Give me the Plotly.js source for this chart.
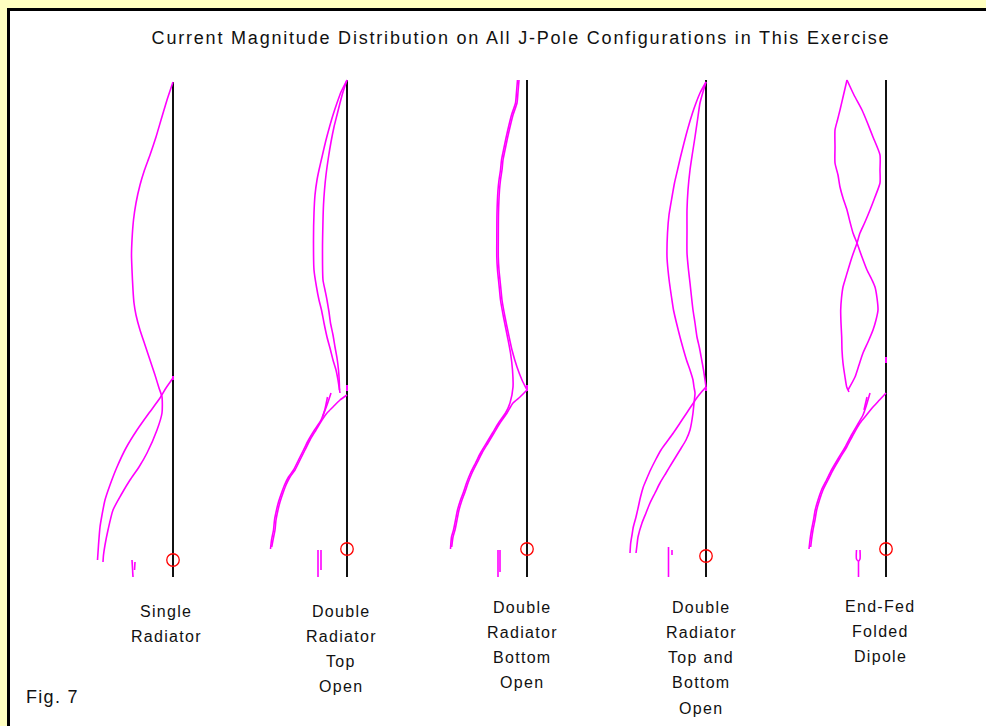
<!DOCTYPE html>
<html>
<head>
<meta charset="utf-8">
<script src="https://cdn.plot.ly/plotly-3.0.1.min.js"></script>
<style>
  html, body { margin: 0; padding: 0; background: #FFFFC0; }
  #chart { width: 986px; height: 726px; }
  text.gtitle { letter-spacing: 1.8px; }
  text.annotation-text { letter-spacing: 1.3px; }
</style>
</head>
<body>
<div id="chart"></div>
<script>
// ---------------- DATA ----------------
// Heights are measured along each element above its bottom end; current magnitudes
// are plotted as offsets to the left of the wire (same drawing units).
const titleText = "Current Magnitude Distribution on All J-Pole Configurations in This Exercise";
const configLabels = [
  ["Single", "Radiator"],
  ["Double", "Radiator", "Top", "Open"],
  ["Double", "Radiator", "Bottom", "Open"],
  ["Double", "Radiator", "Top and", "Bottom", "Open"],
  ["End-Fed", "Folded", "Dipole"]
];
const figLabel = "Fig. 7";

// element (wire) heights: top of each vertical element
const elementTop = [495, 497, 497, 497, 497];
// feed-point (source) heights
const sourceHeight = [17, 28, 28, 21, 28];

// Config 1 - Single Radiator
const c1UpperH = [495,477,457,440,422,407,392,374,357,337,322,307,287,274,262,247,232,217,202,189,180,164,147,124,110,97,82,67,47,32,22,15];
const c1UpperI = [0,6,12,17,23,28.5,33,37,39.5,41,41.5,41,40,39,37,33,28,23,18,14,11,11,16,26,34,43,52,60,65,68,69.5,70];
const c1LowerH = [199,189,179,164,147,129,110,92,77,62,50,32,17];
const c1LowerI = [0,7,13,24,36,47,56,63,68,71,73,74.5,75.5];
const c1StubH = [17,0];
const c1StubI = [41,40];
const c1StubBH = [15,7];
const c1StubBI = [38,38.5];

// Config 2 - Double Radiator, Top Open
const c2OuterH = [497,485,474,462,450,435,420,407,397,382,364,337,307,290,277,267,254,240,227,217,207,197,184];
const c2OuterI = [0,6,10,14,17.5,21.5,25,28,30,32,33,33.5,33,30.5,28,25.5,23,20,16.5,14,11,9,7];
const c2InnerH = [497,485,474,462,450,435,420,402,387,372,357,327,297,287,277,265,254,242,230,219,207,197,187];
const c2InnerI = [0,4,7,10,13,16,18.5,21,22.5,23.5,24,24.5,24,22,20,18,16.5,14,12,10,8.5,7.8,7.5];
const c2LowerH = [182,177,170,164,157,147,137,127,117,107,100,92,84,75,67,57,47,37,30];
const c2LowerI = [0,7,14,20,25,31,37,42,47,52,57,61,64,67,69,71,72,74,75.3];
const c2BranchH = [184,172,157,147,137,127,117,107,100,92,84,75,67,57,47,37,28];
const c2BranchI = [16,20,26,32.5,38.5,43.5,48.5,53.5,58.5,62.5,65.5,68.5,70.5,72.5,73.5,75.5,76.5];
const c2Branch2H = [180,168,160];
const c2Branch2I = [19.5,22,24.5];
const c2StubH = [27,0];
const c2StubI = [29,29];
const c2StubBH = [27,7];
const c2StubBI = [26,26];

// Config 3 - Double Radiator, Bottom Open
const c3UpperAH = [497,485,474,462,450,439,427,417,407,397,387,364,337,320,307,297,287,277,260,244,227,210,197,187];
const c3UpperAI = [8,9,10,14,17,19.5,22,24,25,26.5,27.5,28.5,28.7,28.7,28,27,26,25,22,18.7,15,10,5,0];
const c3UpperBH = [497,485,474,462,450,439,427,417,407,397,387,364,337,320,307,297,287,277,260,240,224,207,190,174,164,154,144,134,124,114,104,94,85,77,67,57,47,40,28];
const c3UpperBI = [9.5,10.5,11.5,15.5,18.5,21,23.5,25.5,26.5,28,29,30,30.2,30.2,29.5,28.5,27.5,26.5,23.5,19.5,16.5,14.5,14,17,21.5,28.5,34.5,40.5,46.5,51.5,56.5,60.5,63.5,66.5,69.5,71.5,73.5,75.5,76.5];
const c3LowerH = [187,180,174,164,154,144,134,124,114,104,94,85,77,67,57,47,40,30];
const c3LowerI = [0,7,14,20,27,33,39,45,50,55,59,62,65,68,70,72,74,75.3];
const c3StubH = [27,0];
const c3StubI = [29,29];
const c3StubBH = [27,5];
const c3StubBI = [27,27];

// Config 4 - Double Radiator, Top and Bottom Open
const c4OuterH = [495,484,474,464,449,434,420,407,394,380,362,344,320,307,294,280,267,254,240,229,217,207,197,190,184,174,164,147,137,127,114,104,94,84,74,64,54,40,32,24];
const c4OuterI = [0,6,10,13.5,18,22,25.5,28.5,31.5,34,37,38.5,39,38,36.5,34.5,32.5,29.5,26,23,19.5,16,13,12,11,12,13,16,20,26,34,40,46,51,56,60,64,68,69,70];
const c4InnerH = [495,485,474,457,440,424,407,387,367,347,324,307,294,280,267,254,240,229,217,207,197,190];
const c4InnerI = [0,3,6,8.5,11,13.5,16,18,19,19,19,17.5,16,14.5,13,11,9,6.5,4.3,2.5,1,0];
const c4LowerH = [190,185,179,172,164,154,144,134,127,117,107,99,90,80,70,60,50,42,34,24];
const c4LowerI = [0,4.5,9.3,14,19.3,26,32.7,40,45,50.5,55.5,59,62.7,65.5,67.7,70,72.7,74,75.3,76];
const c4StubH = [30,0];
const c4StubI = [37.5,37.5];
const c4StubBH = [27,22];
const c4StubBI = [34,34];

// Config 5 - End-Fed Folded Dipole
const c5Wire1H = [497,482,467,457,447,430,414,402,390,379,367,355,344,334,320,307,297,290,279,267,257,247,235,224,212,200,187];
const c5Wire1I = [39,42.5,46,48.5,51,51,51,48,46,43,39,36,33,29,24,19,14,11,9,8,10,13,18,23,27,31,38];
const c5Wire2H = [497,482,467,454,440,422,407,394,380,367,355,344,334,320,307,297,290,279,267,254,240,227,214,200,190,185];
const c5Wire2I = [39,32,24,18.5,13,6,6,6,11,16,21,26,29,34,38,41,43,44.5,45.3,45,44.3,44,43,41,39.3,37];
const c5LowerH = [184,177,170,162,154,142,130,119,107,97,87,77,67,57,47,37,30];
const c5LowerI = [0,6.5,13,19.5,26,33,39.3,46,53,58,63,66.5,69.3,71,73,74.5,75.3];
const c5BranchH = [184,172,162,154,142,130,119,107,97,87,77,67,57,47,37,28];
const c5BranchI = [16,19.5,23,27.5,34.5,40.8,47.5,54.5,59.5,64.5,68,70.8,72.5,74.5,76,77];
const c5Branch2H = [180,167];
const c5Branch2I = [19,22];
const c5StubH = [27,18,16,18,27];
const c5StubI = [29.5,29.5,27.5,26,26];
const c5StubBH = [16,0];
const c5StubBI = [27.5,27.5];

// current on the wire itself near junctions (height ranges)
const wireMarkH = [[197,201],[186,192],[186,192],[186,190],[214,220]];

// ---------------- LAYOUT CONSTANTS ----------------
const W = 986, H = 726;
const BASE_PX = 577;                       // pixel row of element bottoms
const elementX = [173, 347, 527, 706, 886];
const toH = px => BASE_PX - px;             // pixel row -> drawing height
const MAG = '#FF00FF';
const labelX = [166, 341, 522, 701, 880];
const labelY0 = [611, 611, 607, 607, 606];
const LINE_STEP = 25.3;

const curves = [
  [[c1UpperH, c1UpperI], [c1LowerH, c1LowerI], [c1StubH, c1StubI], [c1StubBH, c1StubBI]],
  [[c2OuterH, c2OuterI], [c2InnerH, c2InnerI], [c2LowerH, c2LowerI], [c2BranchH, c2BranchI], [c2Branch2H, c2Branch2I], [c2StubH, c2StubI], [c2StubBH, c2StubBI]],
  [[c3UpperAH, c3UpperAI], [c3UpperBH, c3UpperBI], [c3LowerH, c3LowerI], [c3StubH, c3StubI], [c3StubBH, c3StubBI]],
  [[c4OuterH, c4OuterI], [c4InnerH, c4InnerI], [c4LowerH, c4LowerI], [c4StubH, c4StubI], [c4StubBH, c4StubBI]],
  [[c5Wire1H, c5Wire1I], [c5Wire2H, c5Wire2I], [c5LowerH, c5LowerI], [c5BranchH, c5BranchI], [c5Branch2H, c5Branch2I], [c5StubH, c5StubI], [c5StubBH, c5StubBI]]
];

const traces = [];
// black vertical elements
elementX.forEach((ex, k) => {
  traces.push({
    x: [ex, ex], y: [0, elementTop[k]], mode: 'lines',
    line: {color: '#111111', width: 2}, hoverinfo: 'skip', showlegend: false
  });
});
// magenta current curves
curves.forEach((set, k) => {
  set.forEach(([hh, ii]) => {
    traces.push({
      x: ii.map(v => elementX[k] - v), y: hh, mode: 'lines',
      line: {color: MAG, width: 1.6, shape: 'spline', smoothing: 0.6}, hoverinfo: 'skip', showlegend: false
    });
  });
  traces.push({
    x: [elementX[k], elementX[k]], y: wireMarkH[k], mode: 'lines',
    line: {color: MAG, width: 2}, hoverinfo: 'skip', showlegend: false
  });
});
// source markers
traces.push({
  x: elementX, y: sourceHeight, mode: 'markers',
  marker: {symbol: 'circle-open', size: 12.5, color: '#FF0000', line: {width: 1.3, color: '#FF0000'}},
  hoverinfo: 'skip', showlegend: false
});

const annotations = [];
configLabels.forEach((lines, k) => {
  lines.forEach((t, j) => {
    annotations.push({
      x: labelX[k], y: toH(labelY0[k] + j * LINE_STEP), xref: 'x', yref: 'y',
      text: t, showarrow: false, xanchor: 'center', yanchor: 'middle',
      font: {family: 'Liberation Sans, Arial, sans-serif', size: 16, color: '#111111'}
    });
  });
});
annotations.push({
  x: 24, y: toH(697), xref: 'x', yref: 'y', text: figLabel, showarrow: false,
  xanchor: 'left', yanchor: 'middle',
  font: {family: 'Liberation Sans, Arial, sans-serif', size: 18, color: '#111111'}
});

const layout = {
  width: W, height: H,
  margin: {l: 0, r: 0, t: 0, b: 0, pad: 0},
  paper_bgcolor: '#FFFFC0', plot_bgcolor: 'rgba(0,0,0,0)',
  title: {
    text: titleText, x: 521 / W, y: 1 - 38 / H, xanchor: 'center', yanchor: 'middle',
    font: {family: 'Liberation Sans, Arial, sans-serif', size: 18, color: '#111111'}
  },
  xaxis: {range: [0, W], visible: false, fixedrange: true},
  yaxis: {range: [toH(H), toH(0)], visible: false, fixedrange: true},
  shapes: [
    {type: 'rect', xref: 'x', yref: 'y', x0: 7, x1: W + 20, y0: toH(8), y1: toH(H + 20),
     fillcolor: '#000000', line: {width: 0}, layer: 'below'},
    {type: 'rect', xref: 'x', yref: 'y', x0: 10, x1: W + 20, y0: toH(11), y1: toH(H + 20),
     fillcolor: '#FFFFFF', line: {width: 0}, layer: 'below'}
  ],
  annotations: annotations,
  showlegend: false
};

Plotly.newPlot('chart', traces, layout, {displayModeBar: false, staticPlot: true});
</script>
</body>
</html>
